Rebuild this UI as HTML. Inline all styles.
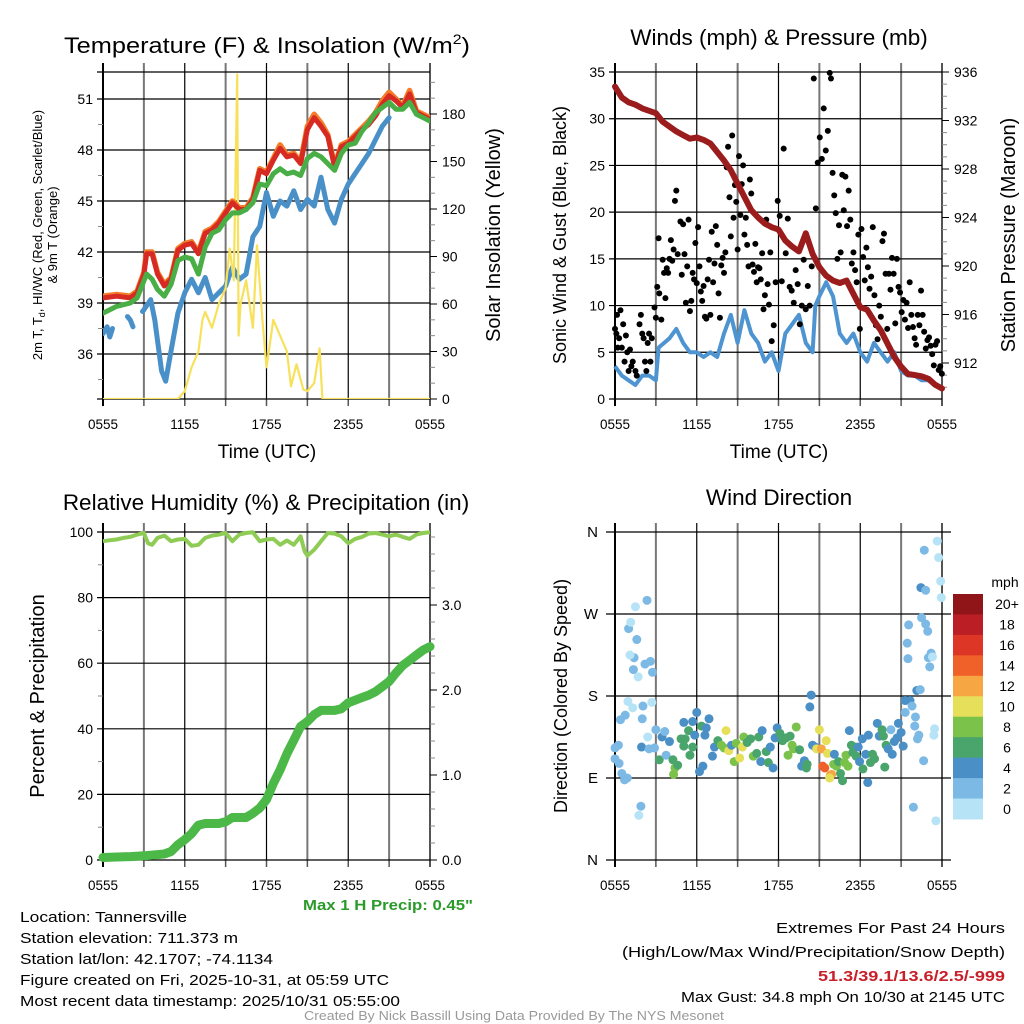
<!DOCTYPE html>
<html><head><meta charset="utf-8"><title>Tannersville Mesonet Meteogram</title>
<style>
html,body{margin:0;padding:0;background:#fff;}
svg{display:block;font-family:"Liberation Sans",sans-serif;}
.nar{font-family:"Liberation Sans Narrow","Liberation Sans",sans-serif;}
</style></head>
<body>
<svg id="fig" width="1024" height="1024" viewBox="0 0 1024 1024" xmlns="http://www.w3.org/2000/svg">
<rect width="1024" height="1024" fill="#fff"/>
<text x="267" y="53" font-size="22.5" text-anchor="middle" textLength="406" lengthAdjust="spacingAndGlyphs">Temperature (F) &amp; Insolation (W/m<tspan dy="-9" font-size="14">2</tspan><tspan dy="9">)</tspan></text>
<text x="779" y="45" font-size="22.5" text-anchor="middle">Winds (mph) &amp; Pressure (mb)</text>
<text x="266" y="510" font-size="22.5" text-anchor="middle">Relative Humidity (%) &amp; Precipitation (in)</text>
<text x="779" y="505" font-size="22.5" text-anchor="middle">Wind Direction</text>
<text transform="translate(42,235) rotate(-90)" font-size="13" text-anchor="middle">2m T, T<tspan font-size="9" dy="3">d</tspan><tspan dy="-3">, HI/WC (Red, Green, Scarlet/Blue)</tspan></text>
<text transform="translate(57,235) rotate(-90)" font-size="13" text-anchor="middle">&amp; 9m T (Orange)</text>
<text transform="translate(500,235) rotate(-90)" font-size="20" text-anchor="middle">Solar Insolation (Yellow)</text>
<text transform="translate(566,235) rotate(-90)" font-size="18" text-anchor="middle">Sonic Wind &amp; Gust (Blue, Black)</text>
<text transform="translate(1015,235) rotate(-90)" font-size="20" text-anchor="middle">Station Pressure (Maroon)</text>
<text transform="translate(44,696) rotate(-90)" font-size="20" text-anchor="middle">Percent &amp; Precipitation</text>
<text transform="translate(567,696) rotate(-90)" font-size="18" text-anchor="middle">Direction (Colored By Speed)</text>
<text x="267" y="458" font-size="19" text-anchor="middle">Time (UTC)</text>
<text x="779" y="458" font-size="19" text-anchor="middle">Time (UTC)</text>
<g class="nar" font-size="15">
<text x="388" y="910" text-anchor="middle" fill="#2a9a2a" font-weight="bold" textLength="170" lengthAdjust="spacingAndGlyphs">Max 1 H Precip: 0.45"</text>
<text x="20" y="922" textLength="167" lengthAdjust="spacingAndGlyphs">Location: Tannersville</text>
<text x="20" y="943" textLength="218" lengthAdjust="spacingAndGlyphs">Station elevation: 711.373 m</text>
<text x="20" y="964" textLength="253" lengthAdjust="spacingAndGlyphs">Station lat/lon: 42.1707; -74.1134</text>
<text x="20" y="985" textLength="369" lengthAdjust="spacingAndGlyphs">Figure created on Fri, 2025-10-31, at 05:59 UTC</text>
<text x="20" y="1006" textLength="380" lengthAdjust="spacingAndGlyphs">Most recent data timestamp: 2025/10/31 05:55:00</text>
<text x="1005" y="933" text-anchor="end" textLength="229" lengthAdjust="spacingAndGlyphs">Extremes For Past 24 Hours</text>
<text x="1005" y="957" text-anchor="end" textLength="383" lengthAdjust="spacingAndGlyphs">(High/Low/Max Wind/Precipitation/Snow Depth)</text>
<text x="1005" y="981" text-anchor="end" fill="#c8202a" font-weight="bold" textLength="187" lengthAdjust="spacingAndGlyphs">51.3/39.1/13.6/2.5/-999</text>
<text x="1005" y="1002" text-anchor="end" textLength="324" lengthAdjust="spacingAndGlyphs">Max Gust: 34.8 mph On 10/30 at 2145 UTC</text>
<text x="514" y="1020" text-anchor="middle" fill="#999" font-size="12.5" textLength="420" lengthAdjust="spacingAndGlyphs">Created By Nick Bassill Using Data Provided By The NYS Mesonet</text>
</g>
</svg>
<script>
const tempT = [0,1,2,2.5,3,3.2,3.6,4,4.5,5,5.5,6,6.5,7,7.5,8,8.5,9,9.5,10,10.5,11,11.5,12,12.5,13,13.5,14,14.5,15,15.5,16,16.5,17,17.5,18,18.5,19,19.5,20,20.5,21,21.5,22,22.5,23,23.5,24];
const tempRed = [39.3,39.4,39.3,39.6,40.7,41.9,41.9,40.7,40,40.4,42.1,42.4,42.5,41.9,43.1,43.3,43.7,44.3,44.9,44.5,44.5,45.1,46.8,46.6,47.4,48.1,47.6,47.7,47.2,49.2,49.9,49.4,48.8,47.0,48.2,48.4,48.8,49.2,49.5,50.0,50.7,51.2,50.9,50.5,51.3,50.2,50.0,49.8];
const tempOrange = [39.4,39.5,39.4,39.7,40.8,42.0,42.0,40.8,40.1,40.5,42.2,42.5,42.6,42.0,43.2,43.4,43.8,44.4,45.0,44.6,44.6,45.2,46.9,46.7,47.5,48.3,47.7,47.8,47.3,49.4,50.1,49.6,48.9,47.1,48.3,48.5,48.9,49.3,49.7,50.2,50.9,51.4,51.0,50.6,51.5,50.3,50.1,49.9];
const tempGreen = [38.4,38.8,39.0,39.3,40.3,40.7,40.4,39.8,39.4,40.1,41.5,41.7,41.6,40.7,42.3,43.1,43.3,43.9,44.3,44.3,44.5,44.9,46.0,45.9,46.6,46.9,46.6,46.7,46.5,47.5,47.8,47.6,47.2,46.8,47.8,48.3,48.4,49.1,49.6,50.2,50.5,50.8,50.4,50.4,50.8,50.1,49.9,49.7];
const dewT = [0,0.3,0.5,0.7,null,1.8,2.0,2.2,null,2.9,3.0,3.5,3.8,4,4.3,4.6,5,5.5,6,6.5,7,7.5,8,8.5,9,9.5,10,10.5,11,11.5,12,12.5,13,13.5,14,14.5,15,15.5,16,16.5,17,17.5,18,18.5,19,19.5,20,20.5,21];
const dewBlue = [37.2,37.6,37.0,37.5,null,38.2,38.0,37.6,null,38.5,38.6,39.2,38.0,36.8,35.0,34.4,36.2,38.4,39.6,40.4,39.6,40.5,39.2,39.6,40.0,41.1,40.4,40.7,42.9,43.5,45.5,44.1,45.0,44.7,45.6,44.5,45.1,44.7,46.4,44.5,43.7,45.1,46.0,46.6,47.2,47.8,48.6,49.4,49.9];
const solarT = [0,5.5,6,6.5,7,7.3,7.5,8,8.5,9,9.3,9.6,9.85,9.95,10.1,10.5,11,11.3,11.7,12,12.5,13,13.5,13.8,14.2,14.7,15,15.5,15.9,16.1,24];
const solarV = [0,0,5,20,30,50,55,45,60,70,95,75,205,40,60,75,45,97,50,20,50,40,30,8,22,6,5,10,32,0,0];

const windT = [0,0.5,1,1.5,2,2.5,3,3.2,4,4.5,5,5.5,6,6.5,7,7.5,8,8.5,9,9.5,10,10.5,11,11.5,12,12.5,13,13.5,14,14.5,14.7,15,15.5,16,16.5,17,17.5,18,18.5,19,19.5,20,20.5,21,21.5,22,22.5,23,23.5,24];
const windV = [3.5,2.5,2.0,1.5,2.5,2.5,2,5.5,6.5,7.5,6,5,5,4.5,5,4.5,7,9,6,9.5,7,6,4,5,3,7,8,9,6,5,10,11,12.5,11,7,6,7,5,4,6,5,4,5,3,2.5,2.5,2,2,1.5,1];
const presT = [0,0.5,1,1.5,2,2.5,3,3.5,4,4.5,5,5.5,6,6.5,7,7.5,8,8.5,9,9.5,10,10.5,11,11.5,12,12.5,13,13.5,14,14.5,15,15.5,16,16.5,17,17.5,18,18.5,19,19.5,20,20.5,21,21.5,22,22.5,23,23.5,24];
const presV = [934.8,933.9,933.5,933.3,933.0,932.8,932.6,931.9,931.5,931.1,930.8,930.5,930.6,930.4,930.1,929.4,928.7,927.9,926.8,925.7,924.6,924.0,923.5,923.2,923.0,922.1,921.6,921.2,922.7,921.0,919.9,919.2,918.8,918.6,918.8,917.7,916.6,916.4,915.5,914.7,913.6,912.5,911.7,911.1,911.0,910.9,910.7,910.2,909.9];
const gustT = [0,0.1,0.15,0.2,0.3,0.4,0.5,0.6,0.7,0.8,0.9,1.0,1.1,1.2,1.3,1.5,1.6,1.8,1.9,2.0,2.1,2.2,2.3,2.4,2.5,2.6,2.7,2.9,3.0,3.1,3.2,3.25,3.4,3.5,3.6,3.7,3.8,3.9,4.0,4.1,4.2,4.3,4.4,4.5,4.6,4.8,4.9,5.0,5.1,5.2,5.3,5.4,5.5,5.6,5.7,5.8,5.9,6.0,6.1,6.2,6.3,6.4,6.5,6.6,6.7,6.8,6.9,7.0,7.1,7.2,7.3,7.4,7.5,7.6,7.7,7.8,7.9,8.0,8.1,8.2,8.3,8.4,8.5,8.6,8.7,8.8,8.9,9.0,9.1,9.2,9.3,9.4,9.5,9.6,9.7,9.8,9.9,10.0,10.1,10.2,10.3,10.4,10.5,10.6,10.7,10.8,10.9,11.0,11.1,11.2,11.3,11.4,
11.5,11.65,11.79,11.94,12.09,12.24,12.38,12.53,12.68,12.82,12.97,13.12,13.26,13.41,13.56,13.71,13.85,14.0,14.15,14.29,14.44,14.59,14.74,14.88,15.03,15.18,15.32,15.47,15.62,15.76,
15.85,15.97,16.09,16.2,16.32,16.44,16.56,16.68,16.79,16.91,17.03,17.15,17.27,17.38,17.5,17.62,17.74,17.86,17.97,18.09,18.21,18.33,18.45,18.56,18.68,18.8,18.92,19.04,19.15,19.27,19.39,19.51,19.63,19.74,19.86,19.98,20.1,20.22,20.33,20.45,20.57,20.69,20.81,20.92,21.04,21.16,21.28,21.4,21.51,21.63,21.75,21.87,21.99,22.1,22.22,22.34,22.46,22.58,22.69,22.81,22.93,23.05,23.17,23.28,23.4,23.52,23.64,23.76,23.87,23.99];
const gustV = [7.5,7,9,5.5,6.5,9.5,5.5,8,4,6.8,5,3,5.3,3.5,4,3,2.5,8,9,7,6.5,4,3,6,7,4,6.5,9.8,8.7,12,17.2,11.3,8.5,14.9,13.5,10.8,14,13.5,15,17,14.8,16,21.2,22.3,15.5,19,13.3,18.7,15.5,10.3,14.2,19.2,9.4,10.5,13.5,12.8,16.7,12.4,18.4,14.2,11.5,10.5,12.1,8.8,8.6,12.8,14.9,9,17.9,12.5,14.5,18.5,16.5,11.3,8.7,14.3,15.1,13.5,15.7,24.8,27,21.6,17.4,28.2,19.4,22.9,21.1,16,26,19.7,23,25,17.6,19.4,16.5,14.2,23.5,22,14.4,13.6,16.6,12.5,14.1,14,12.8,15.6,9.6,11.1,19.2,12.3,10.1,15.7,
6.2,7.9,12.5,21.2,19.6,12.6,26.8,15.6,19.3,12,11.6,10.3,13.8,12.3,8,10,14.9,9.6,12.1,10,14.2,34.3,20.4,25.3,28,25.7,31.1,26.6,28.7,34.9,
34.3,24.2,21.8,19.9,15,18.6,15.7,24,20.2,23.8,18.5,22.3,19.2,14.5,15.7,13.8,12.5,17.6,7.5,18.2,15.2,12.7,16.2,14.1,11.8,13.1,18.4,11.1,7.9,6.4,10,8.8,16.9,17.7,13.4,7.5,13.4,11.7,15.1,13.4,8.1,15,12,11.4,9.3,10.6,8.5,10.3,7.6,12.5,9,7.7,6.5,5.8,9,7.9,11.6,9,7.2,5.4,6.3,6.6,5.7,4.8,3.6,5.8,6.2,3.1,3.5,2.7];

const rhT = [0,0.5,1,1.5,2,2.5,3,3.3,3.6,4,4.5,5,5.5,6,6.5,7,7.5,8,8.5,9,9.5,10,10.5,11,11.5,12,12.5,13,13.5,14,14.5,14.8,15,15.5,16,16.5,17,17.5,18,18.5,19,19.5,20,20.5,21,21.5,22,22.5,23,23.5,24];
const rhV = [97.2,97.5,97.7,98.2,98.5,99.2,99.7,96.6,96.1,98.2,98.9,97.2,97.7,97.9,95.8,96.1,98.2,98.9,99.2,99.7,97.2,99.2,99.7,99.9,97.2,97.7,97.9,96.1,97.4,96.1,98.7,94.1,92.8,94.6,97.2,99.7,99.5,98.7,96.6,97.9,98.5,99.5,99.7,99.2,98.7,99.2,98.5,97.9,99.2,99.7,99.9];
const precT = [0,2,3,4.5,5,5.5,6,6.5,7,7.5,8,8.5,9,9.5,10,10.5,11,11.5,12,12.5,13,13.5,14,14.5,15,15.5,16,16.5,17,17.5,18,18.5,19,19.5,20,20.5,21,21.5,22,22.5,23,23.5,24];
const precV = [0.03,0.04,0.05,0.07,0.1,0.18,0.24,0.31,0.41,0.43,0.43,0.43,0.45,0.5,0.5,0.5,0.55,0.61,0.71,0.9,1.06,1.25,1.41,1.57,1.63,1.71,1.76,1.76,1.76,1.78,1.85,1.88,1.91,1.94,1.98,2.04,2.1,2.2,2.29,2.35,2.41,2.47,2.51];

const dirT = [0,0.25,0,0.3,0.5,0.7,0.9,0.4,0.75,0.95,1.3,1.0,1.15,1.5,1.6,1.4,1.1,1.35,1.7,1.9,1.75,1.95,2.05,2.0,2.2,2.35,2.6,2.75,2.7,2.4,2.5,3.0,2.9,3.25,3.45,3.65,3.75,4.0,4.25,4.4,4.3,4.6,4.85,5.05,5.15,5.4,5.5,5.7,5.85,6.0,5.7,5.05,6.2,6.35,6.45,6.6,6.9,6.7,7.15,7.3,7.55,7.8,8.0,8.15,8.35,8.55,8.75,8.9,9.15,9.35,9.45,9.7,9.95,10.15,10.4,10.55,10.7,10.8,11.1,11.25,11.4,11.6,11.75,11.9,12.1,12.3,12.55,12.7,12.85,13.0,13.1,13.3,13.55,13.7,13.9,14.05,14.1,14.3,14.4,14.5,14.7,14.8,15.0,15.15,15.25,15.4,15.5,15.6,15.8,15.9,15.75,16.1,16.05,16.25,16.4,16.55,16.7,16.85,16.95,17.1,17.2,17.35,17.45,17.6,17.7,17.85,17.95,18.15,18.2,18.4,18.55,18.6,18.75,18.9,19.05,19.25,19.4,19.6,19.7,19.8,19.9,20.05,20.25,20.35,20.5,20.7,20.8,21.0,21.15,21.3,21.3,21.45,21.5,21.55,21.65,21.8,21.9,22.0,22.05,22.2,22.3,22.15,22.4,22.45,22.5,22.65,22.7,22.8,22.8,22.95,23.0,23.1,23.2,23.3,23.4,23.45,23.55,23.65,23.75,23.9,23.95];
const dirDeg = [123,126,111,106,95,88,90,154,159,174,167,254,261,278,242,222,225,209,201,59,49,124,169,155,215,285,218,206,173,135,122,143,123,110,135,141,115,130,110,101,94,104,133,125,133,142,115,124,137,162,152,151,97,147,103,137,155,145,114,124,131,126,123,142,120,126,108,128,112,124,135,129,133,114,117,135,108,142,119,107,124,101,134,145,139,131,134,115,136,126,122,146,121,103,109,101,105,168,181,126,124,122,143,122,103,101,131,117,93,94,90,116,105,103,108,95,87,107,115,103,142,126,118,124,114,124,108,133,100,116,85,137,107,116,111,150,136,143,136,102,126,122,143,116,130,134,150,140,125,175,162,238,221,258,175,169,58,147,157,133,137,186,187,299,266,109,340,259,296,251,222,212,227,223,137,144,43,350,332,306,288];
const dirSpd = [3,3,3,2,2,2,2,2,2,1,1,2,1,1,2,2,1,2,1,2,1,4,2,2,2,2,2,2,1,1,2,2,3,6,4,2,3,4,6,8,8,6,6,6,7,6,6,6,4,4,4,4,4,6,4,4,4,4,4,4,6,8,8,10,10,4,8,8,10,10,8,6,6,8,6,6,4,4,6,6,4,4,4,4,6,6,6,8,6,8,8,8,6,4,4,6,6,4,4,4,4,10,10,12,14,14,10,10,12,12,10,4,8,8,6,6,6,8,8,8,4,6,6,6,6,4,4,4,6,4,4,4,6,6,6,4,4,6,6,6,6,4,2,4,4,4,4,4,4,4,2,2,2,2,4,2,2,2,2,2,2,4,2,4,2,2,2,2,2,2,2,2,2,1,1,1,1,1,1,1,1,1,1];

const speedLabels = ['20+','18','16','14','12','10','8','6','4','2','0'];
const speedColors = ['#8f1519','#bb1e25','#dd3627','#f06129','#f6a744','#e6df5a','#7bc24b','#49a56c','#4a8fc6','#7db9e5','#b7e3f7'];

const timeLabels = ['0555','1155','1755','2355','0555'];
const tempTicks = [36,39,42,45,48,51];
const solarTicks = [0,30,60,90,120,150,180];
const windTicks = [0,5,10,15,20,25,30,35];
const presTicks = [912,916,920,924,928,932,936];
const pctTicks = [0,20,40,60,80,100];
const precTicks = ['0.0','1.0','2.0','3.0'];
const dirLabels = ['N','E','S','W','N'];

const NS = 'http://www.w3.org/2000/svg';
const svg = document.getElementById('fig');
function mk(tag, attrs, parent){
  const e = document.createElementNS(NS, tag);
  for (const k in attrs) e.setAttribute(k, attrs[k]);
  (parent || svg).appendChild(e);
  return e;
}
function xs(x0, x1){ return t => x0 + t * (x1 - x0) / 24; }
function lin(v0, p0, v1, p1){ return v => p0 + (v - v0) * (p1 - p0) / (v1 - v0); }
function pathFrom(ts, vs, fx, fy){
  let d = '', pen = false;
  for (let i = 0; i < ts.length; i++){
    if (ts[i] === null || vs[i] === null){ pen = false; continue; }
    d += (pen ? 'L' : 'M') + fx(ts[i]).toFixed(1) + ',' + fy(vs[i]).toFixed(1);
    pen = true;
  }
  return d;
}
function speedColor(s){
  if (s === undefined || isNaN(s)) return speedColors[10];
  const idx = Math.max(0, Math.min(10, 10 - Math.floor(s / 2)));
  return speedColors[idx];
}

function frame(name, x0, x1, y0, y1){
  const g = mk('g', {});
  
  
  const fx = xs(x0, x1);
  for (let h = 3; h < 24; h += 3){
    const ln = mk('line', {x1: fx(h), x2: fx(h), y1: y0 - 9, y2: y1, stroke: (h % 6 === 0) ? '#000' : '#777', 'stroke-width': (h % 6 === 0) ? 1.2 : 2}, g);
    
    
    const tk = mk('line', {x1: fx(h), x2: fx(h), y1: y1, y2: y1 + 7, stroke: '#555', 'stroke-width': 1.5}, g);
    
    
  }
  [0,24].forEach(h => {
    const ln = mk('line', {x1: fx(h), x2: fx(h), y1: y0 - 9, y2: y1 + 7, stroke: h ? '#555' : '#000', 'stroke-width': 2}, g);
    
    
  });
  timeLabels.forEach((lab, i) => {
    const tx = mk('text', {x: fx(i * 6), y: y1 + 30, 'font-size': 13.5, 'text-anchor': 'middle'}, g);
    tx.textContent = lab;
    
    
  });
  return fx;
}
function hgrid(g, x0, x1, y){
  const ln = mk('line', {x1: x0 - 6, x2: x1, y1: y, y2: y, stroke: '#000', 'stroke-width': 1.2}, g);
  
  
}
function yLabel(g, x, y, txt, anchor, size){
  const tx = mk('text', {x: x, y: y + 5, 'font-size': size || 14, 'text-anchor': anchor}, g);
  tx.textContent = txt;
  
  
}
function minorTick(g, x, y, dx){
  const ln = mk('line', {x1: x, x2: x + dx, y1: y, y2: y, stroke: '#888', 'stroke-width': 1}, g);
  
  
}

(function(){
  const x0 = 103, x1 = 430, y0 = 72, y1 = 399;
  const fx = frame('temperature', x0, x1, y0, y1);
  const fy = lin(36, 354, 51, 99);
  const fs = lin(0, 399, 180, 114);
  const g = mk('g', {});
  
  
  hgrid(g, x0, x1, y0);
  hgrid(g, x0, x1, y1);
  tempTicks.forEach(v => { hgrid(g, x0, x1, fy(v)); yLabel(g, x0 - 10, fy(v), String(v), 'end'); });
  for (let v = 34.5; v < 52.5; v += 3) minorTick(g, x0, fy(v), -5);
  solarTicks.forEach(v => { const l = mk('line', {x1: x1, x2: x1 + 7, y1: fs(v), y2: fs(v), stroke: '#000'}, g);   yLabel(g, x1 + 12, fs(v), String(v), 'start'); });
  for (let v = 10; v < 206; v += 10) if (v % 30) minorTick(g, x1, fs(v), 5);
  const clip = mk('clipPath', {id: 'clipT'});
  mk('rect', {x: x0, y: y0, width: x1 - x0, height: y1 - y0}, clip);
  const series = [
    ['dewpoint-line', dewT, dewBlue, '#4a90c8', 5, fy],
    ['solar-insolation-line', solarT, solarV, '#f7e15b', 2.2, fs],
    ['temperature-9m-line', tempT, tempOrange, '#f47d2a', 5.5, fy],
    ['temperature-2m-line', tempT, tempRed, '#d62a22', 5, fy],
    ['heat-index-windchill-line', tempT, tempGreen, '#48ae45', 5, fy]
  ];
  series.forEach(s => {
    const p = mk('path', {d: pathFrom(s[1], s[2], fx, s[5]), fill: 'none', stroke: s[3], 'stroke-width': s[4], 'stroke-linejoin': 'round', 'stroke-linecap': 'round', 'clip-path': 'url(#clipT)'});
    
    
  });
})();

(function(){
  const x0 = 615, x1 = 942, y0 = 72, y1 = 399;
  const fx = frame('wind', x0, x1, y0, y1);
  const fy = lin(0, 399, 35, 72);
  const fp = lin(936, 72, 912, 363);
  const g = mk('g', {});
  
  
  windTicks.forEach(v => { hgrid(g, x0, x1, fy(v)); yLabel(g, x0 - 10, fy(v), String(v), 'end'); });
  presTicks.forEach(v => { const l = mk('line', {x1: x1, x2: x1 + 7, y1: fp(v), y2: fp(v), stroke: '#000'}, g);   yLabel(g, x1 + 12, fp(v), String(v), 'start'); });
  for (let v = 910; v < 936; v += 1) if (v % 4) minorTick(g, x1, fp(v), 5);
  const w = mk('path', {d: pathFrom(windT, windV, fx, fy), fill: 'none', stroke: '#4d94d0', 'stroke-width': 4, 'stroke-linejoin': 'round'});
  
  
  const gg = mk('g', {fill: '#000'});
  
  
  for (let i = 0; i < gustT.length; i++){
    const c = mk('circle', {cx: fx(gustT[i]), cy: fy(gustV[i]), r: 3}, gg);
    
    
  }
  const p = mk('path', {d: pathFrom(presT, presV, fx, fp), fill: 'none', stroke: '#9b1c1c', 'stroke-width': 6, 'stroke-linejoin': 'round', 'stroke-linecap': 'round'});
  
  
})();

(function(){
  const x0 = 103, x1 = 430, y0 = 532, y1 = 860;
  const fx = frame('humidity', x0, x1, y0, y1);
  const fy = lin(0, 860, 100, 532);
  const fp = lin(0, 860, 1, 775);
  const g = mk('g', {});
  
  
  pctTicks.forEach(v => { hgrid(g, x0, x1, fy(v)); yLabel(g, x0 - 10, fy(v), String(v), 'end'); });
  for (let v = 10; v < 100; v += 20) minorTick(g, x0, fy(v), -5);
  precTicks.forEach((lab, i) => { const l = mk('line', {x1: x1, x2: x1 + 7, y1: fp(i), y2: fp(i), stroke: '#000'}, g);   yLabel(g, x1 + 12, fp(i), lab, 'start'); });
  for (let v = 0.2; v < 3.85; v += 0.2) if (Math.abs(v - Math.round(v)) > 0.05) minorTick(g, x1, fp(v), 5);
  const r = mk('path', {d: pathFrom(rhT, rhV, fx, fy), fill: 'none', stroke: '#8fcc55', 'stroke-width': 4, 'stroke-linejoin': 'round'});
  
  
  const p = mk('path', {d: pathFrom(precT, precV, fx, fp), fill: 'none', stroke: '#4cb848', 'stroke-width': 9, 'stroke-linejoin': 'round', 'stroke-linecap': 'round'});
  
  
})();

(function(){
  const x0 = 615, x1 = 942, y0 = 532, y1 = 860;
  const fx = frame('direction', x0, x1, y0, y1);
  const fy = lin(0, 860, 360, 532);
  const g = mk('g', {});
  
  
  dirLabels.forEach((lab, i) => {
    const y = fy(i * 90);
    const l = mk('line', {x1: x0 - 9, x2: x1 + 9, y1: y, y2: y, stroke: '#000', 'stroke-width': 1.2}, g);
    
    
    yLabel(g, x0 - 17, y, lab, 'end', 15);
  });
  const dg = mk('g', {});
  
  
  for (let i = 0; i < dirT.length; i++){
    const c = mk('circle', {cx: fx(dirT[i]), cy: fy(dirDeg[i]), r: 4.5, fill: speedColor(dirSpd[i])}, dg);
    
    
  }
  const lg = mk('g', {});
  
  
  const t = mk('text', {x: 1005, y: 587, 'font-size': 14, 'text-anchor': 'middle'}, lg);
  t.textContent = 'mph';
  
  
  const segH = 225 / speedLabels.length;
  speedLabels.forEach((lab, i) => {
    const r = mk('rect', {x: 953, y: 594 + i * segH, width: 30, height: segH + 0.5, fill: speedColors[i]}, lg);
    
    
    const tx = mk('text', {x: 1007, y: 594 + i * segH + segH / 2 + 5, 'font-size': 14, 'text-anchor': 'middle'}, lg);
    tx.textContent = lab;
    
    
  });
})();
</script>
</body></html>
